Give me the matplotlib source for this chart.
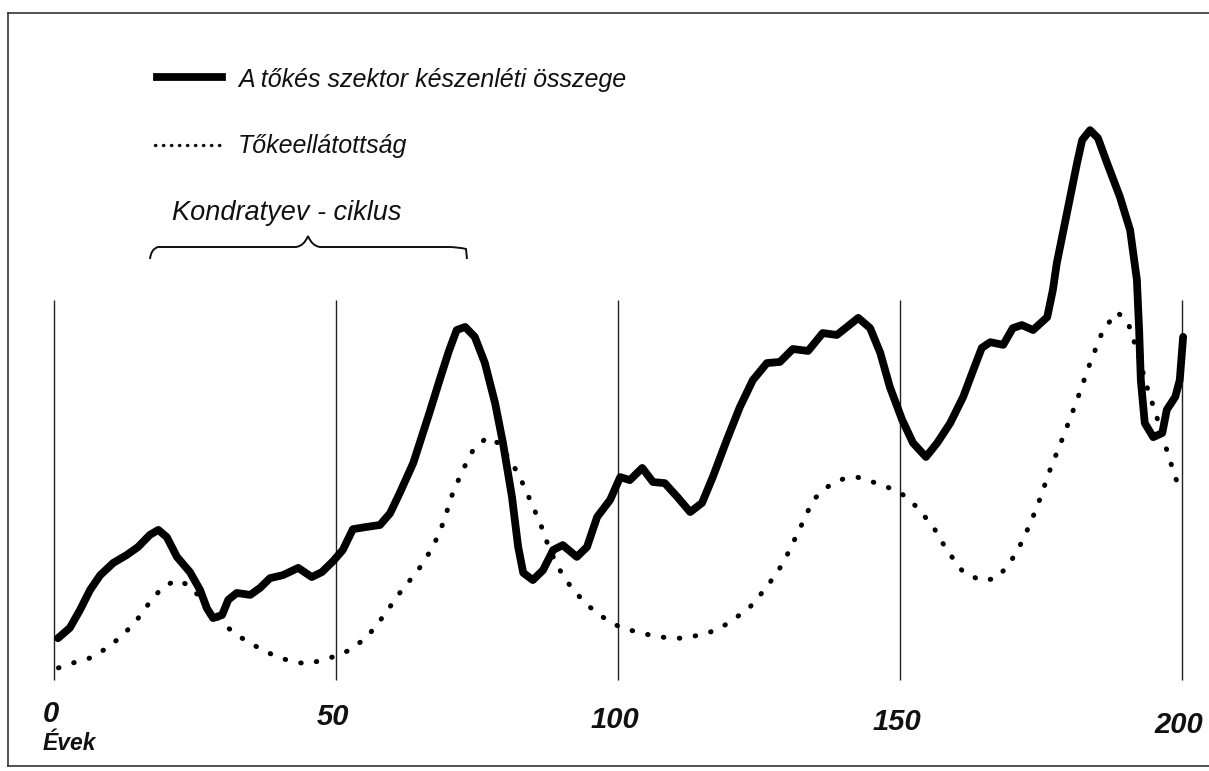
import matplotlib.pyplot as plt
from matplotlib.lines import Line2D
from matplotlib.path import Path
from matplotlib.patches import PathPatch

# A tőkés szektor készenléti összege (vastag vonal)
evek = [0.7, 2.8, 4.6, 6.4, 8.2, 10.5, 12.9, 14.9, 17.0, 18.5, 20.0, 21.8, 24.1,
        25.9, 27.1, 28.2, 29.8, 30.9, 32.4, 34.8, 36.5, 38.3, 40.6, 43.3, 45.7,
        47.5, 49.5, 51.2, 53.0, 55.5, 57.8, 59.6, 61.3, 63.7, 66.5, 68.6, 70.0,
        71.4, 72.9, 74.6, 76.4, 78.2, 79.6, 81.2, 82.3, 83.2, 84.9, 86.7, 88.5,
        90.2, 92.7, 94.5, 96.3, 98.6, 100.4, 102.1, 104.3, 106.2, 108.3, 110.5,
        112.8, 114.9, 116.8, 119.3, 121.6, 123.9, 126.4, 128.7, 131.0, 133.7,
        136.3, 138.8, 140.6, 142.6, 144.7, 146.5, 148.2, 150.4, 152.3, 154.6,
        156.6, 158.9, 161.2, 163.0, 164.5, 166.0, 168.3, 170.0, 171.6, 173.6,
        176.1, 177.1, 177.8, 179.6, 181.4, 182.3, 183.7, 185.1, 186.7, 189.0,
        190.8, 192.0, 192.4, 192.7, 193.4, 194.9, 196.5, 197.3, 198.8, 199.6,
        200.2]
tokes = [11.0, 13.7, 18.4, 23.7, 27.6, 30.8, 32.9, 35.0, 38.2, 39.5, 37.6, 32.4,
         28.4, 23.7, 18.9, 16.3, 17.1, 21.1, 22.9, 22.4, 24.2, 26.8, 27.6, 29.5,
         27.1, 28.4, 31.3, 34.2, 39.7, 40.3, 40.8, 43.9, 49.2, 57.1, 70.0, 80.0,
         86.5, 92.1, 92.9, 90.3, 83.4, 72.9, 62.4, 48.2, 35.0, 28.2, 26.3, 28.9,
         34.2, 35.5, 32.4, 35.0, 42.9, 47.4, 53.4, 52.6, 55.8, 52.1, 51.8, 48.2,
         44.2, 46.6, 53.4, 63.2, 71.8, 78.9, 83.4, 83.7, 87.1, 86.6, 91.3, 90.8,
         92.9, 95.3, 92.6, 86.1, 77.1, 68.4, 62.4, 58.7, 62.4, 67.6, 74.5, 81.6,
         87.4, 88.9, 88.2, 92.6, 93.4, 92.1, 95.5, 102.6, 109.7, 122.9, 136.1,
         142.1, 144.7, 142.6, 136.1, 127.1, 118.4, 105.3, 92.1, 78.9, 67.6, 63.9,
         65.0, 71.1, 74.5, 78.9, 90.3]

# Tőkeellátottság (pontozott vonal)
evek_pont = [0.8, 3.4, 6.4, 9.4, 12.2, 14.7, 17.0, 19.3, 21.8, 23.8, 25.9, 28.2,
             30.7, 33.0, 36.0, 38.8, 41.8, 44.9, 47.7, 49.5, 52.5, 55.5, 58.3,
             61.3, 64.6, 67.2, 69.0, 70.7, 72.5, 74.3, 76.8, 78.7, 80.9, 82.6,
             84.4, 86.2, 87.9, 89.7, 92.0, 95.0, 98.0, 100.4, 103.9, 107.4, 111.0,
             114.5, 117.6, 120.4, 123.4, 126.4, 129.3, 132.3, 134.6, 137.1, 139.9,
             142.4, 145.2, 148.2, 150.4, 153.0, 155.9, 158.3, 161.2, 164.5, 167.2,
             169.5, 171.8, 174.3, 176.6, 178.9, 181.4, 183.7, 186.0, 188.5, 190.4,
             192.0, 193.8, 195.7, 197.3, 198.8, 199.6]
tokeellatottsag = [3.2, 4.5, 5.8, 8.4, 11.8, 15.8, 20.5, 24.5, 26.3, 25.0, 21.8,
                   17.6, 13.9, 11.3, 8.7, 6.6, 5.0, 4.2, 5.3, 6.1, 7.9, 11.3, 16.6,
                   22.9, 29.0, 35.0, 41.3, 49.2, 55.3, 60.5, 63.9, 62.4, 57.9, 53.4,
                   47.4, 41.3, 34.2, 28.9, 23.7, 19.2, 15.8, 13.9, 12.4, 11.3, 11.0,
                   11.8, 13.2, 15.8, 19.2, 24.5, 30.8, 40.0, 47.4, 50.8, 52.9, 53.4,
                   52.1, 50.5, 48.9, 45.5, 40.3, 34.2, 28.4, 26.1, 26.8, 30.8, 36.8,
                   45.5, 55.3, 63.9, 73.7, 83.4, 92.1, 96.8, 94.2, 86.8, 77.1, 68.4,
                   60.5, 53.4, 50.3]

racs_x = [0, 50, 100, 150, 200]
racs_cimkek = ['0', '50', '100', '150', '200']

W, H = 1209, 771
X0, PX_EV = 54, 5.64      # pixel of year 0, pixels per year
Y0, PX_EGYSEG = 680, 3.8  # pixel of value 0, pixels per unit

fig = plt.figure(figsize=(W / 100, H / 100), dpi=100)
ax = fig.add_axes([0, 0, 1, 1])
ax.set_xlim(-X0 / PX_EV, (W - X0) / PX_EV)
ax.set_ylim(-(H - Y0) / PX_EGYSEG, Y0 / PX_EGYSEG)
ax.axis('off')


def fp(x, y):
    # pixel -> figure fraction
    return x / W, 1 - y / H


betu = dict(family=['Liberation Sans', 'DejaVu Sans'], style='italic', color='#111')

# keret
for (xa, ya), (xb, yb) in [((8, 13), (8, 766)), ((8, 13), (1209, 13)), ((8, 766), (1209, 766))]:
    fig.add_artist(Line2D([xa / W, xb / W], [1 - ya / H, 1 - yb / H],
                          transform=fig.transFigure, color='#333', lw=1.2))

# függőleges rácsvonalak
ax.vlines(racs_x, 0, 100, color='#222', lw=1.0)

# görbék
ax.plot(evek, tokes, color='black', lw=5.6, solid_joinstyle='round', solid_capstyle='round')
ax.plot(evek_pont, tokeellatottsag, color='black', lw=3.6, linestyle=(0, (0.1, 3.1)),
        dash_capstyle='round')

# tengelyfeliratok
for t, c in zip(racs_x, racs_cimkek):
    ax.text(t - 0.6, -9.0 - 0.014 * t, c, ha='center', va='center', fontsize=21,
            weight='bold', **betu)
fig.text(*fp(43, 743), 'Évek', ha='left', va='center', fontsize=16.5, weight='bold', **betu)

# jelmagyarázat
fig.add_artist(Line2D([157 / W, 222 / W], [1 - 77 / H] * 2, transform=fig.transFigure,
                      color='black', lw=5.6))
fig.add_artist(Line2D([155 / W, 220 / W], [1 - 145 / H] * 2, transform=fig.transFigure,
                      color='black', lw=2.4, linestyle=(0, (0.1, 2.3)), dash_capstyle='round'))
fig.text(*fp(238, 80), 'A tőkés szektor készenléti összege', ha='left', va='center',
         fontsize=18, **betu)
fig.text(*fp(238, 146), 'Tőkeellátottság', ha='left', va='center', fontsize=18, **betu)

# Kondratyev-ciklus kapcsos zárójel
fig.text(*fp(172, 213), 'Kondratyev - ciklus', ha='left', va='center', fontsize=19.5, **betu)
pts = [(150, 259), (151, 249), (158, 247), (168, 247),
       (296, 247), (304, 246), (308, 236),
       (312, 246), (320, 247), (448, 247),
       (458, 247), (466, 249), (467, 259)]
codes = [Path.MOVETO, Path.CURVE3, Path.CURVE3, Path.LINETO,
         Path.LINETO, Path.CURVE3, Path.CURVE3,
         Path.CURVE3, Path.CURVE3, Path.LINETO,
         Path.CURVE3, Path.CURVE3, Path.LINETO]
brace = Path([fp(x, y) for x, y in pts], codes)
fig.add_artist(PathPatch(brace, transform=fig.transFigure, fill=False, color='#111', lw=1.4))

fig.savefig('out.png', dpi=100, facecolor='white')
